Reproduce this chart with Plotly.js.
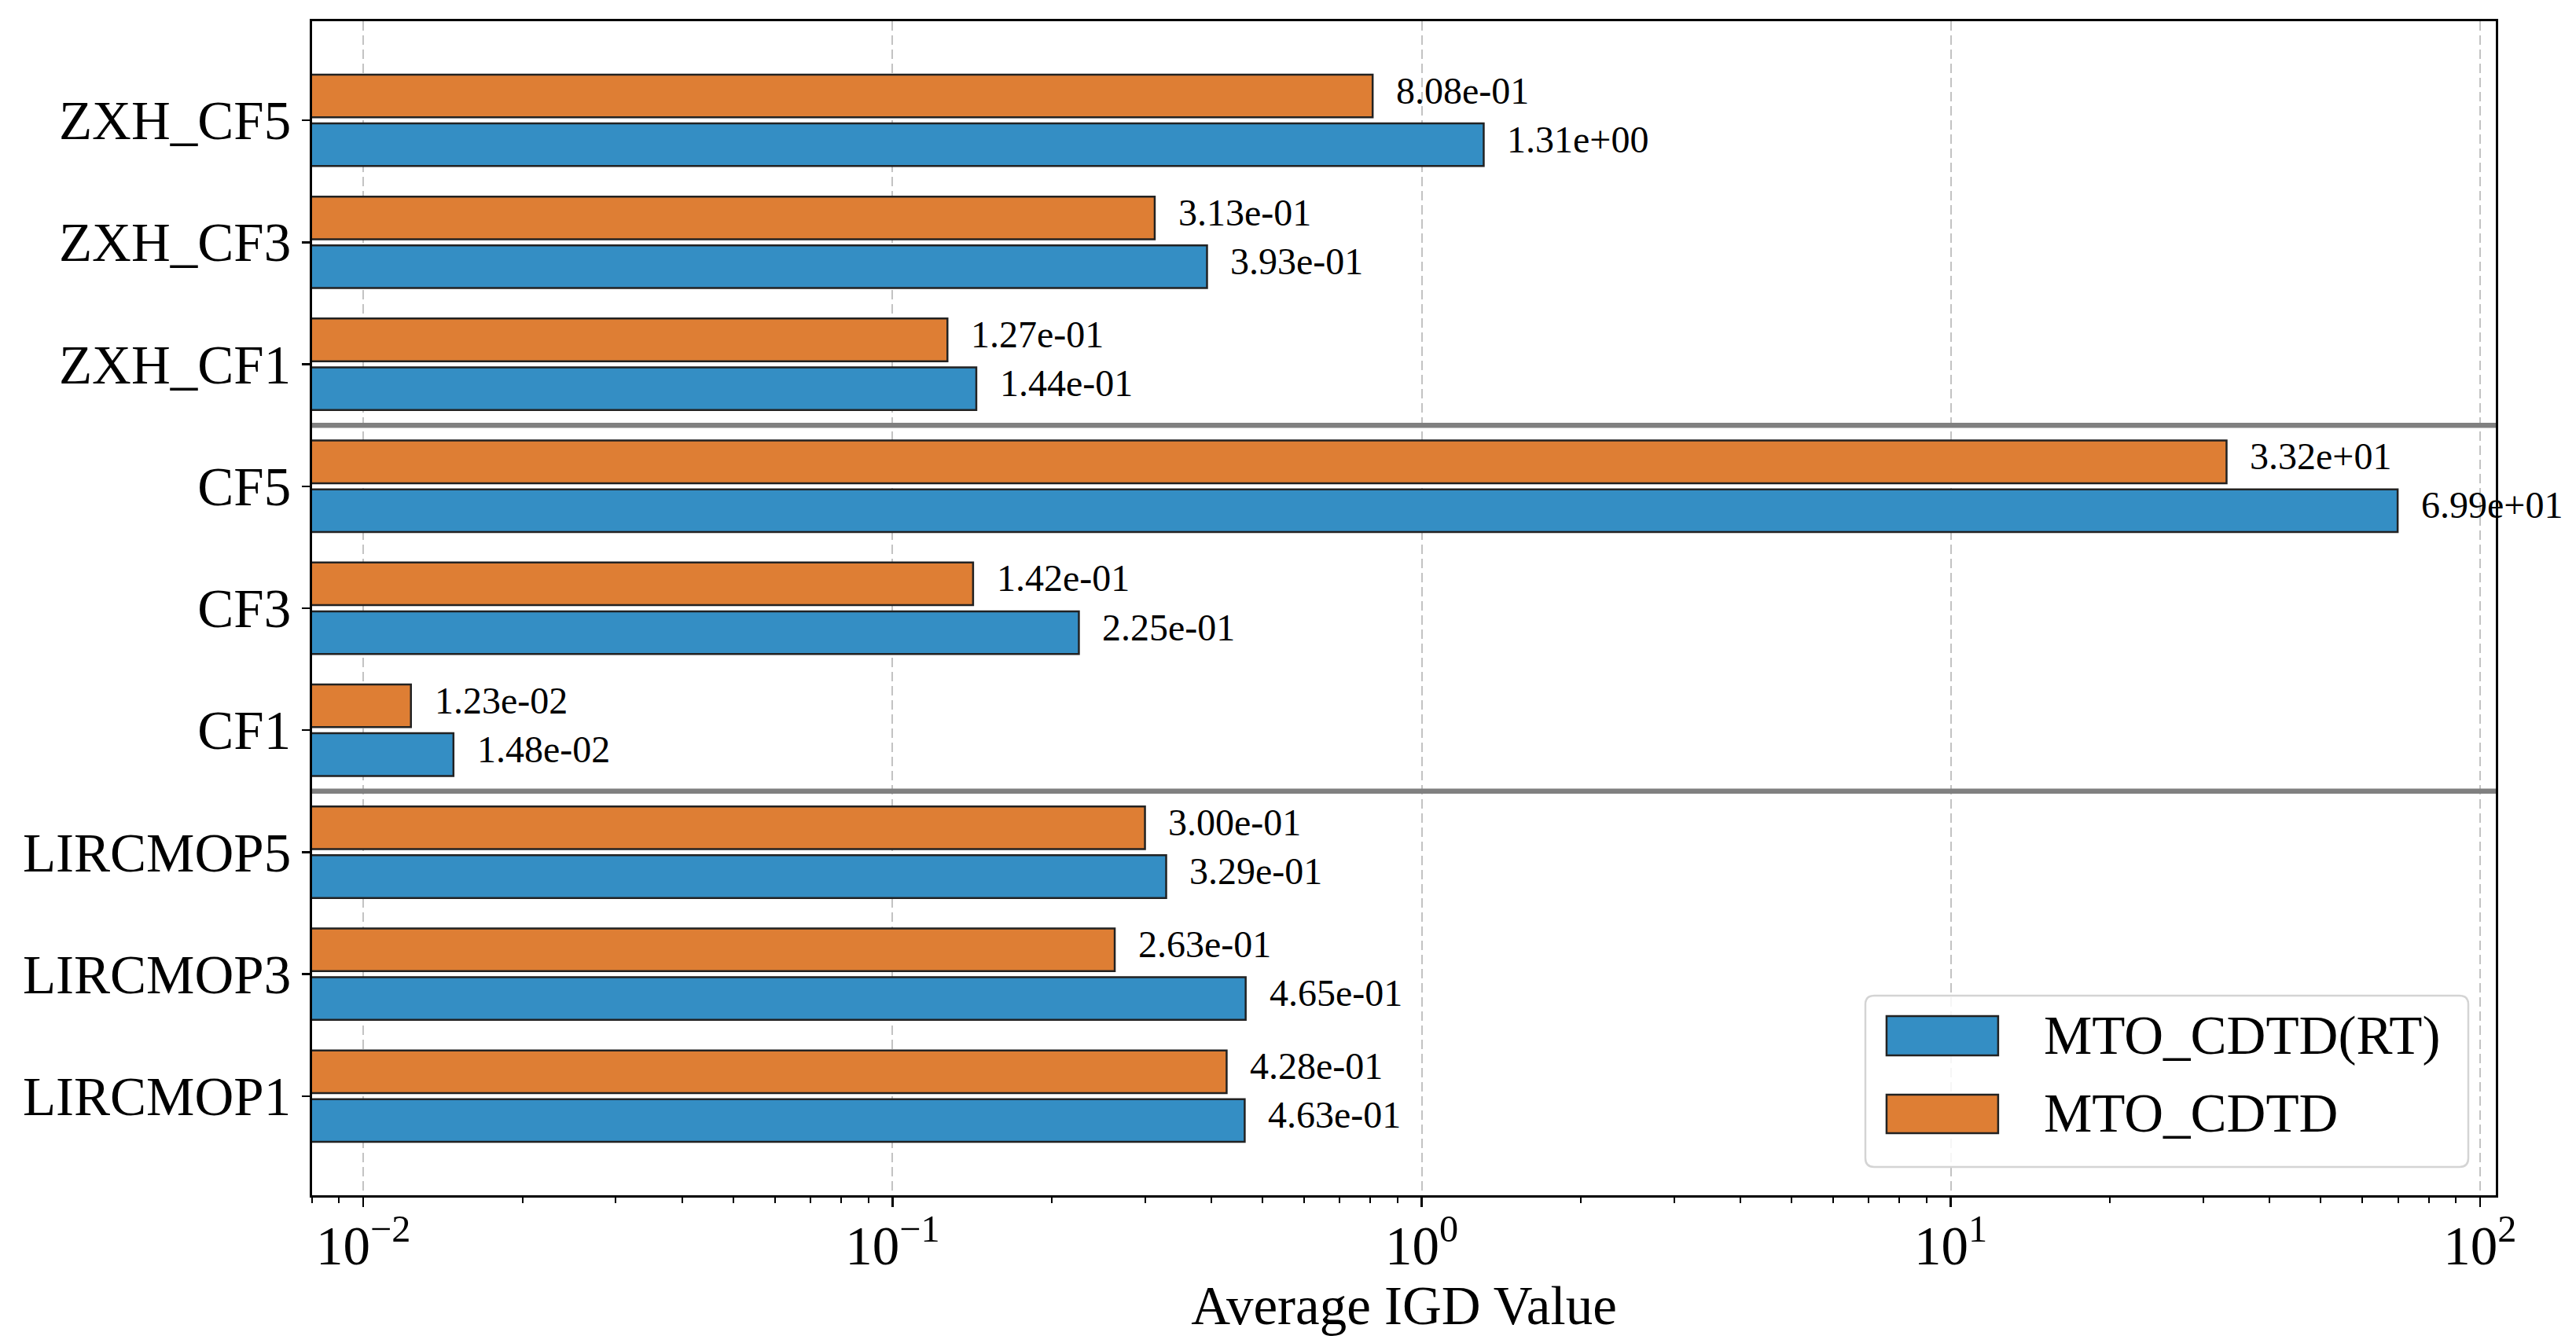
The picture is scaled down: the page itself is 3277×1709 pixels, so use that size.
<!DOCTYPE html>
<html>
<head>
<meta charset="utf-8">
<script src="https://cdn.plot.ly/plotly-3.0.1.min.js"></script>
<style>html,body{margin:0;padding:0;background:#fff;}#chart{width:3277px;height:1709px;}</style>
</head>
<body>
<div id="chart"></div>
<script>
// ---- data ----
var categories = ['LIRCMOP1','LIRCMOP3','LIRCMOP5','CF1','CF3','CF5','ZXH_CF1','ZXH_CF3','ZXH_CF5'];
var seriesNames = ['MTO_CDTD(RT)','MTO_CDTD'];
var valuesRT = [4.63e-01, 4.65e-01, 3.29e-01, 1.48e-02, 2.25e-01, 6.99e+01, 1.44e-01, 3.93e-01, 1.31e+00];
var valuesBase = [4.28e-01, 2.63e-01, 3.00e-01, 1.23e-02, 1.42e-01, 3.32e+01, 1.27e-01, 3.13e-01, 8.08e-01];
var xTickVals = [0.01, 0.1, 1, 10, 100];
var xTickText = ['10<sup>\u22122</sup>','10<sup>\u22121</sup>','10<sup>0</sup>','10<sup>1</sup>','10<sup>2</sup>'];
var separatorsAfter = [2, 5]; // group boundaries (index after which a line is drawn)

// ---- styles ----
var FONT = '"Liberation Serif", "Times New Roman", serif';
var BLUE = '#348EC4';
var ORANGE = '#DE7E34';
var EDGE = '#222222';

function fmt(v){
  var s = v.toExponential(2);
  var parts = s.split('e');
  var sign = parts[1][0];
  var digits = parts[1].slice(1);
  if (digits.length < 2) digits = '0' + digits;
  return parts[0] + 'e' + sign + digits;
}

var traceRT = {
  type: 'bar', orientation: 'h', name: seriesNames[0],
  y: categories, x: valuesRT,
  width: 0.35, offset: -0.375,
  marker: {color: BLUE, line: {color: EDGE, width: 2.5}},
  showlegend: false, hoverinfo: 'x+y'
};
var traceBase = {
  type: 'bar', orientation: 'h', name: seriesNames[1],
  y: categories, x: valuesBase,
  width: 0.35, offset: 0.025,
  marker: {color: ORANGE, line: {color: EDGE, width: 2.5}},
  showlegend: false, hoverinfo: 'x+y'
};

var annotations = [];
for (var i = 0; i < categories.length; i++) {
  annotations.push({
    x: Math.log10(valuesRT[i] * 1.1), y: i - 0.2, xref: 'x', yref: 'y', yshift: 7,
    text: fmt(valuesRT[i]), showarrow: false, xanchor: 'left', yanchor: 'middle',
    font: {family: FONT, size: 48, color: '#000'}
  });
  annotations.push({
    x: Math.log10(valuesBase[i] * 1.1), y: i + 0.2, xref: 'x', yref: 'y', yshift: 7,
    text: fmt(valuesBase[i]), showarrow: false, xanchor: 'left', yanchor: 'middle',
    font: {family: FONT, size: 48, color: '#000'}
  });
}

var shapes = [];
separatorsAfter.forEach(function(k){
  shapes.push({type: 'line', xref: 'paper', yref: 'y', x0: 0, x1: 1, y0: k + 0.5, y1: k + 0.5,
    line: {color: '#808080', width: 6.5}, layer: 'above'});
});

// ---- custom legend (large patches like the original) ----
function roundRect(x0, y0, x1, y1, rx, ry){
  return 'M' + (x0+rx) + ',' + y0 + ' L' + (x1-rx) + ',' + y0 + ' Q' + x1 + ',' + y0 + ' ' + x1 + ',' + (y0+ry) +
    ' L' + x1 + ',' + (y1-ry) + ' Q' + x1 + ',' + y1 + ' ' + (x1-rx) + ',' + y1 +
    ' L' + (x0+rx) + ',' + y1 + ' Q' + x0 + ',' + y1 + ' ' + x0 + ',' + (y1-ry) +
    ' L' + x0 + ',' + (y0+ry) + ' Q' + x0 + ',' + y0 + ' ' + (x0+rx) + ',' + y0 + ' Z';
}
shapes.push({type: 'path', xref: 'paper', yref: 'paper',
  path: roundRect(0.7113, 0.0241, 0.9874, 0.1700, 0.0040, 0.0075),
  fillcolor: 'rgba(255,255,255,0.85)', line: {color: '#d4d4d4', width: 2.5}, layer: 'above'});
var legendColors = [BLUE, ORANGE];
var legendRows = [[0.1191, 0.1526], [0.0529, 0.0857]];
for (var j = 0; j < seriesNames.length; j++) {
  shapes.push({type: 'rect', xref: 'paper', yref: 'paper', x0: 0.7210, x1: 0.7721,
    y0: legendRows[j][0], y1: legendRows[j][1],
    fillcolor: legendColors[j], line: {color: EDGE, width: 2.5}, layer: 'above'});
  annotations.push({xref: 'paper', yref: 'paper', x: 0.7923, y: (legendRows[j][0] + legendRows[j][1]) / 2,
    text: seriesNames[j], showarrow: false, xanchor: 'left', yanchor: 'middle',
    font: {family: FONT, size: 69, color: '#000'}});
}

var layout = {
  width: 3277, height: 1709,
  margin: {l: 397, r: 102, t: 27, b: 188, pad: 0},
  paper_bgcolor: '#ffffff', plot_bgcolor: '#ffffff',
  font: {family: FONT, size: 69, color: '#000'},
  barmode: 'overlay',
  showlegend: false,
  xaxis: {
    type: 'log',
    range: [Math.log10(0.008), 2.03],
    tickmode: 'array', tickvals: xTickVals, ticktext: xTickText,
    ticks: 'outside', ticklen: 12, tickwidth: 2.5, tickcolor: '#000',
    ticklabelstandoff: -10,
    minor: {ticks: 'outside', ticklen: 7, tickwidth: 2, tickcolor: '#000', dtick: 'D1', showgrid: false},
    showgrid: true, gridcolor: 'rgba(170,170,170,0.7)', gridwidth: 2, griddash: '12px,6px',
    showline: true, linecolor: '#000', linewidth: 3, mirror: true,
    zeroline: false, layer: 'above traces',
    tickfont: {family: FONT, size: 69, color: '#000'},
    title: {text: 'Average IGD Value', font: {family: FONT, size: 69, color: '#000'}, standoff: 0},
    automargin: false, fixedrange: true
  },
  yaxis: {
    type: 'category',
    categoryorder: 'array', categoryarray: categories,
    range: [-0.8125, 8.8125],
    ticks: 'outside', ticklen: 10, tickwidth: 2.5, tickcolor: '#000',
    showgrid: false, zeroline: false,
    showline: true, linecolor: '#000', linewidth: 3, mirror: true,
    tickfont: {family: FONT, size: 69, color: '#000'},
    automargin: false, fixedrange: true
  },
  annotations: annotations,
  shapes: shapes
};

Plotly.newPlot('chart', [traceRT, traceBase], layout, {displayModeBar: false, staticPlot: true});
</script>
</body>
</html>
